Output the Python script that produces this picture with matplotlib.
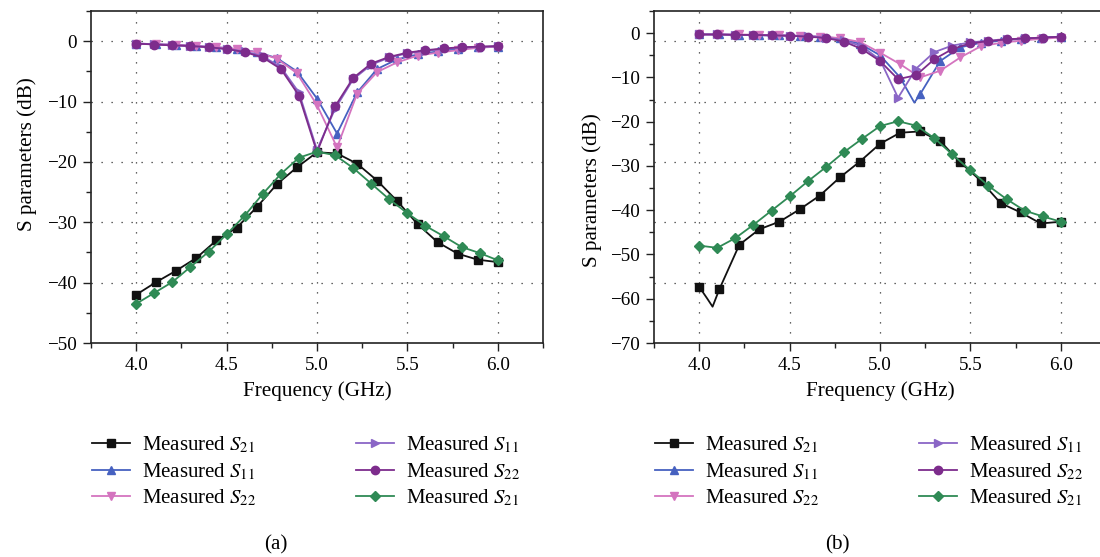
import numpy as np
import matplotlib
matplotlib.use("Agg")
import matplotlib.pyplot as plt
from matplotlib.lines import Line2D
from matplotlib.ticker import MultipleLocator

plt.rcParams['font.family'] = ['Liberation Serif', 'DejaVu Serif']
plt.rcParams['mathtext.fontset'] = 'stix'
plt.rcParams['axes.unicode_minus'] = True

# ---------------------------------------------------------------- data
# Two measurement sweeps: 19-point sweep and 21-point sweep (GHz)
FREQ_19 = [4.000, 4.111, 4.222, 4.333, 4.444, 4.556, 4.667, 4.778, 4.889, 5.000,
           5.111, 5.222, 5.333, 5.444, 5.556, 5.667, 5.778, 5.889, 6.000]
FREQ_21 = [4.0, 4.1, 4.2, 4.3, 4.4, 4.5, 4.6, 4.7, 4.8, 4.9, 5.0,
           5.1, 5.2, 5.3, 5.4, 5.5, 5.6, 5.7, 5.8, 5.9, 6.0]

# panel (a), dB
A_S21_BLACK = [-42.0, -39.9, -38.0, -35.9, -33.0, -30.9, -27.5, -23.7, -20.9, -18.4,
               -18.6, -20.3, -23.1, -26.5, -30.3, -33.3, -35.2, -36.2, -36.6]
A_S11_BLUE = [-0.4, -0.5, -0.6, -0.8, -1.0, -1.3, -1.8, -2.8, -5.0, -9.5,
              -15.3, -8.5, -4.6, -3.0, -2.2, -1.7, -1.3, -1.0, -0.9]
A_S22_PINK = [-0.4, -0.5, -0.6, -0.8, -1.0, -1.3, -1.8, -2.9, -5.3, -10.6,
              -17.6, -8.7, -5.1, -3.5, -2.4, -1.9, -1.5, -1.1, -0.9]
A_S11_LAVENDER = [-0.4, -0.5, -0.7, -0.8, -1.0, -1.3, -1.7, -2.5, -4.3, -8.5, -18.0,
                  -11.2, -6.3, -3.9, -2.7, -2.0, -1.6, -1.3, -1.1, -0.95, -0.85]
A_S22_PURPLE = [-0.4, -0.55, -0.7, -0.8, -1.0, -1.3, -1.8, -2.7, -4.6, -9.0, -18.4,
                -10.8, -6.1, -3.7, -2.6, -1.9, -1.5, -1.2, -1.0, -0.9, -0.8]
A_S21_GREEN = [-43.5, -41.7, -39.9, -37.4, -34.9, -32.0, -28.9, -25.3, -22.0, -19.3, -18.3,
               -18.9, -21.0, -23.6, -26.2, -28.5, -30.6, -32.3, -34.1, -35.1, -36.3]

# panel (b), dB
B_S21_BLACK = [-57.3, -57.9, -47.8, -44.3, -42.6, -39.8, -36.7, -32.6, -29.0, -25.0,
               -22.5, -22.2, -24.4, -29.2, -33.3, -38.4, -40.5, -43.0, -42.6]
B_S21_BLACK_DIP_F = [4.045, 4.074]
B_S21_BLACK_DIP_DB = [-60.0, -61.8]
B_S11_BLUE = [-0.3, -0.3, -0.4, -0.5, -0.5, -0.6, -0.8, -1.2, -2.4, -5.0,
              -10.0, -13.8, -6.3, -3.2, -2.2, -1.7, -1.3, -1.0, -0.8]
B_S11_BLUE_DIP_F = [5.19]
B_S11_BLUE_DIP_DB = [-15.7]
B_S22_PINK = [-0.3, -0.3, -0.3, -0.4, -0.5, -0.6, -0.8, -1.1, -2.0, -4.4,
              -7.0, -10.0, -8.5, -5.5, -3.0, -2.2, -1.7, -1.3, -1.0]
B_S11_LAVENDER = [-0.3, -0.3, -0.4, -0.4, -0.5, -0.6, -0.7, -1.0, -1.6, -3.0, -6.0,
                  -14.6, -8.0, -4.3, -2.8, -2.1, -1.7, -1.4, -1.2, -1.0, -0.8]
B_S22_PURPLE = [-0.3, -0.3, -0.4, -0.4, -0.5, -0.6, -0.8, -1.1, -1.9, -3.6, -6.3,
                -10.4, -9.5, -5.9, -3.6, -2.3, -1.8, -1.4, -1.2, -1.0, -0.8]
B_S21_GREEN = [-48.0, -48.5, -46.3, -43.3, -40.1, -36.9, -33.5, -30.3, -26.9, -23.9, -21.0,
               -19.9, -20.9, -23.7, -27.4, -31.0, -34.5, -37.5, -40.1, -41.4, -42.6]

LABELS = ['Measured $S_{21}$', 'Measured $S_{11}$', 'Measured $S_{22}$',
          'Measured $S_{11}$', 'Measured $S_{22}$', 'Measured $S_{21}$']
X_TICKS = [4.0, 4.5, 5.0, 5.5, 6.0]

# ---------------------------------------------------------------- styles
C_BLACK = '#111111'
C_BLUE = '#4661c0'
C_PINK = '#d474bf'
C_LAV = '#8a66c6'
C_PURPLE = '#7d2c8c'
C_GREEN = '#2f8a55'

STYLES = [
    dict(color=C_BLACK, marker='s', ms=5.5),
    dict(color=C_BLUE, marker='^', ms=6.0),
    dict(color=C_PINK, marker='v', ms=6.0),
    dict(color=C_LAV, marker='>', ms=6.0),
    dict(color=C_PURPLE, marker='o', ms=6.0),
    dict(color=C_GREEN, marker='D', ms=5.2),
]

FS_TICK = 13.8
FS_LABEL = 15.2
FS_LEG = 15.0

fig = plt.figure(figsize=(11.0, 5.57), dpi=100)
W, H = 1100.0, 557.0


def fig_box(left, top, right, bottom):
    return [left / W, 1 - bottom / H, (right - left) / W, (bottom - top) / H]


ax_a = fig.add_axes(fig_box(91, 11, 543, 343))
ax_b = fig.add_axes(fig_box(654, 11, 1106, 343))


def draw(ax, freq, db, style, extra_f=(), extra_db=()):
    f = np.array(list(freq) + list(extra_f), dtype=float)
    d = np.array(list(db) + list(extra_db), dtype=float)
    order = np.argsort(f, kind='stable')
    marked = [i for i, o in enumerate(order) if o < len(freq)]
    ax.plot(f[order], d[order], lw=1.3, markevery=marked,
            color=style['color'], marker=style['marker'], ms=style['ms'],
            mec=style['color'], mfc=style['color'], zorder=3)


# horizontal dotted guide rows, shared by both panels (axes fraction)
ROWS_A = [0, -10, -20, -30, -40]
YLIM_A = (-50, 5)
YLIM_B = (-70, 5)
ROW_FRACS = [(r - YLIM_A[0]) / (YLIM_A[1] - YLIM_A[0]) for r in ROWS_A]

GRID_KW = dict(color='#333333', lw=0.9, ls=(0, (1, 7)), zorder=1)


def style_axes(ax, ylim):
    ax.set_xlim(3.75, 6.25)
    ax.set_ylim(*ylim)
    ax.set_xticks(X_TICKS)
    ax.set_xticklabels([f'{t:.1f}' for t in X_TICKS])
    ax.xaxis.set_minor_locator(MultipleLocator(0.25))
    ax.yaxis.set_major_locator(MultipleLocator(10))
    ax.yaxis.set_minor_locator(MultipleLocator(5))
    ax.tick_params(which='both', direction='out', top=False, right=False,
                   width=1.0, color='#222222', labelsize=FS_TICK, pad=4)
    ax.tick_params(which='major', length=6)
    ax.tick_params(which='minor', length=3.5)
    for s in ax.spines.values():
        s.set_linewidth(1.2)
        s.set_color('#222222')
    for x in X_TICKS:
        ax.axvline(x, **GRID_KW)
    for fr in ROW_FRACS:
        ax.plot([0, 1], [fr, fr], transform=ax.transAxes, **GRID_KW)
    ax.set_xlabel('Frequency (GHz)', fontsize=FS_LABEL, labelpad=5)
    ax.set_ylabel('S parameters (dB)', fontsize=FS_LABEL)


# panel (a)
draw(ax_a, FREQ_19, A_S21_BLACK, STYLES[0])
draw(ax_a, FREQ_19, A_S11_BLUE, STYLES[1])
draw(ax_a, FREQ_19, A_S22_PINK, STYLES[2])
draw(ax_a, FREQ_21, A_S11_LAVENDER, STYLES[3])
draw(ax_a, FREQ_21, A_S22_PURPLE, STYLES[4])
draw(ax_a, FREQ_21, A_S21_GREEN, STYLES[5])
style_axes(ax_a, YLIM_A)
ax_a.yaxis.set_label_coords(-0.119, 0.57)

# panel (b)
draw(ax_b, FREQ_19, B_S21_BLACK, STYLES[0], B_S21_BLACK_DIP_F, B_S21_BLACK_DIP_DB)
draw(ax_b, FREQ_19, B_S11_BLUE, STYLES[1], B_S11_BLUE_DIP_F, B_S11_BLUE_DIP_DB)
draw(ax_b, FREQ_19, B_S22_PINK, STYLES[2])
draw(ax_b, FREQ_21, B_S11_LAVENDER, STYLES[3])
draw(ax_b, FREQ_21, B_S22_PURPLE, STYLES[4])
draw(ax_b, FREQ_21, B_S21_GREEN, STYLES[5])
style_axes(ax_b, YLIM_B)
ax_b.yaxis.set_label_coords(-0.115, 0.46)

# legends below each panel: two columns of three entries
handles = [Line2D([], [], lw=1.3, color=s['color'], marker=s['marker'],
                  ms=s['ms'], mec=s['color'], mfc=s['color']) for s in STYLES]

LEG_KW = dict(frameon=False, fontsize=FS_LEG, handlelength=1.8,
              handletextpad=0.6, labelspacing=0.26, borderpad=0,
              borderaxespad=0, loc='upper left', numpoints=1)

for x0 in (92, 655):
    fig.legend(handles[:3], LABELS[:3], bbox_to_anchor=(x0 / W, 1 - 435 / H), **LEG_KW)
    fig.legend(handles[3:], LABELS[3:], bbox_to_anchor=((x0 + 264) / W, 1 - 435 / H), **LEG_KW)

fig.text(276 / W, 1 - 545 / H, '(a)', ha='center', va='center', fontsize=FS_LABEL)
fig.text(837 / W, 1 - 545 / H, '(b)', ha='center', va='center', fontsize=FS_LABEL)

fig.savefig('out.png', dpi=100)
